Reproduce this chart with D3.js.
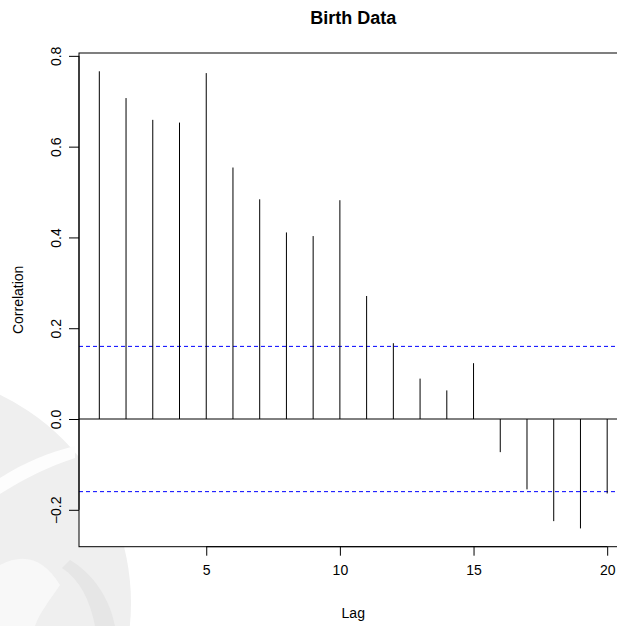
<!DOCTYPE html>
<html>
<head>
<meta charset="utf-8">
<script src="https://cdn.jsdelivr.net/npm/d3@7"></script>
<style>
  html, body { margin: 0; padding: 0; background: #fff; }
  svg { display: block; font-family: "Liberation Sans", Arial, Helvetica, sans-serif; }
</style>
</head>
<body>
<svg id="chart" width="617" height="626"></svg>
<script>
// ACF values
const lags = [1, 2, 3, 4, 5, 6, 7, 8, 9, 10, 11, 12, 13, 14, 15, 16, 17, 18, 19, 20];
const acf = [0.766, 0.707, 0.659, 0.653, 0.762, 0.554, 0.484, 0.411, 0.403, 0.482,
             0.271, 0.167, 0.089, 0.063, 0.123, -0.073, -0.155, -0.225, -0.241, -0.164];
const clim = 0.16;
const xTicks = [5, 10, 15, 20];
const yTicks = [-0.2, 0.0, 0.2, 0.4, 0.6, 0.8];

const plotLeft = 79, plotRight = 627.5, plotTop = 53, plotBottom = 546.7;

const svg = d3.select('#chart');

// faint watermark behind the plot
const wm = svg.append('g');
wm.append('circle').attr('cx', -100).attr('cy', 603).attr('r', 231).attr('fill', '#efefef');
wm.append('path')
  .attr('d', 'M0,478 C25,462 50,452 75,446 L75,458 C50,466 25,478 0,494 Z')
  .attr('fill', '#fdfdfd');
wm.append('path')
  .attr('d', 'M0,565 C25,552 45,560 60,585 C50,600 40,612 35,626 L0,626 Z')
  .attr('fill', '#f8f8f8');
wm.append('path')
  .attr('d', 'M70,560 C95,575 110,600 115,626 L95,626 C90,600 80,580 62,568 Z')
  .attr('fill', '#e6e6e6');

// R-style 4% axis extension
function extend(ext) {
  const d = (ext[1] - ext[0]) * 0.04;
  return [ext[0] - d, ext[1] + d];
}

const x = d3.scaleLinear()
  .domain(extend(d3.extent(lags)))
  .range([plotLeft, plotRight]);

const y = d3.scaleLinear()
  .domain(extend(d3.extent(acf.concat([clim, -clim]))))
  .range([plotBottom, plotTop]);

// plot panel
svg.append('rect')
  .attr('x', plotLeft).attr('y', plotTop)
  .attr('width', plotRight - plotLeft).attr('height', plotBottom - plotTop)
  .attr('fill', '#fff');

// zero line
svg.append('line')
  .attr('x1', plotLeft).attr('x2', plotRight)
  .attr('y1', y(0)).attr('y2', y(0))
  .attr('stroke', '#000').attr('stroke-width', 1);

// significance bounds
svg.selectAll('.clim')
  .data([clim, -clim])
  .enter()
  .append('line')
  .attr('x1', plotLeft).attr('x2', plotRight)
  .attr('y1', (d) => y(d)).attr('y2', (d) => y(d))
  .attr('stroke', '#0000ff').attr('stroke-width', 1)
  .attr('stroke-dasharray', '4,3');

// spikes
svg.selectAll('.spike')
  .data(lags)
  .enter()
  .append('line')
  .attr('x1', (d) => x(d)).attr('x2', (d) => x(d))
  .attr('y1', y(0))
  .attr('y2', (d, i) => y(acf[i]))
  .attr('stroke', '#000').attr('stroke-width', 1);

// box
svg.append('rect')
  .attr('x', plotLeft).attr('y', plotTop)
  .attr('width', plotRight - plotLeft).attr('height', plotBottom - plotTop)
  .attr('fill', 'none').attr('stroke', '#000').attr('stroke-width', 1);

// x axis
const xAxis = svg.append('g')
  .attr('transform', 'translate(0,' + plotBottom + ')')
  .call(d3.axisBottom(x).tickValues(xTicks).tickSize(9).tickPadding(9).tickFormat(d3.format('d')));
xAxis.select('.domain').attr('d', 'M' + x(xTicks[0]) + ',0H' + x(xTicks[xTicks.length - 1]));
xAxis.selectAll('text').style('font-size', '14px').attr('fill', '#000');

// y axis
const yAxis = svg.append('g')
  .attr('transform', 'translate(' + plotLeft + ',0)')
  .call(d3.axisLeft(y).tickValues(yTicks).tickSize(10).tickFormat(d3.format('.1f')));
yAxis.select('.domain').attr('d', 'M0,' + y(yTicks[0]) + 'V' + y(yTicks[yTicks.length - 1]));
yAxis.selectAll('text')
  .attr('x', null).attr('dy', null)
  .attr('transform', (d) => 'translate(-18,0) rotate(-90)')
  .attr('text-anchor', 'middle')
  .style('font-size', '14px')
  .attr('fill', '#000');

// titles
svg.append('text')
  .attr('x', (plotLeft + plotRight) / 2).attr('y', 24)
  .attr('text-anchor', 'middle')
  .style('font-size', '18px').style('font-weight', 'bold')
  .text('Birth Data');

svg.append('text')
  .attr('x', (plotLeft + plotRight) / 2).attr('y', 618)
  .attr('text-anchor', 'middle')
  .style('font-size', '14px')
  .text('Lag');

svg.append('text')
  .attr('transform', 'translate(23,' + (plotTop + plotBottom) / 2 + ') rotate(-90)')
  .attr('text-anchor', 'middle')
  .style('font-size', '14px')
  .text('Correlation');
</script>
</body>
</html>
